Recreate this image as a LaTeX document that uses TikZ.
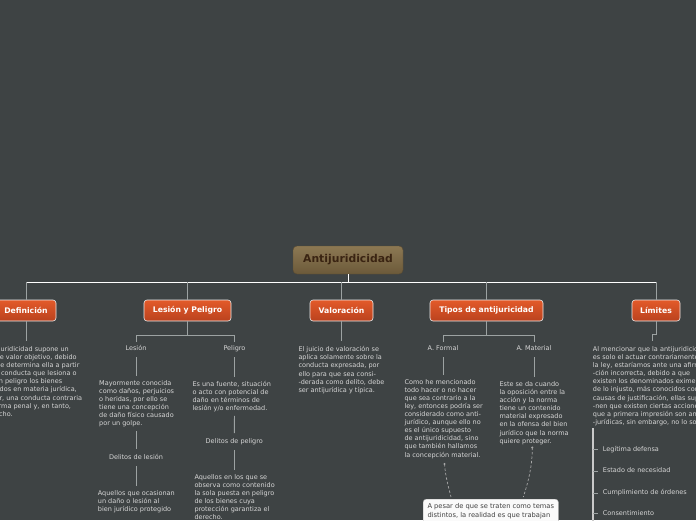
\documentclass[tikz,border=0pt]{standalone}
\usepackage{fontspec}
\setmainfont{DejaVu Sans}
\definecolor{bg}{HTML}{3E4344}
\definecolor{txt}{HTML}{D6D6D6}
\definecolor{conn}{HTML}{9CA2A2}
\definecolor{orT}{HTML}{E35A2A}
\definecolor{orB}{HTML}{BA421E}
\definecolor{brT}{HTML}{8C7853}
\definecolor{brB}{HTML}{6C5A3A}
\definecolor{brTxt}{HTML}{3A2412}
\definecolor{relc}{HTML}{A8A8A8}
\definecolor{barc}{HTML}{C9C9C9}
\begin{document}
\begin{tikzpicture}[x=1pt,y=-1pt,
 rootbox/.style={rounded corners=4pt, top color=brT, bottom color=brB, draw=brB!85!black, line width=0.4pt, text=brTxt, font=\bfseries\fontsize{10.8}{12}\selectfont, minimum width=110pt, minimum height=28pt, inner sep=0pt},
 mainbox/.style={rounded corners=3pt, top color=orT, bottom color=orB, draw=white!85!gray, line width=0.6pt, text=white, font=\bfseries\fontsize{7.7}{9}\selectfont, minimum height=21pt, inner sep=0pt},
 bodytxt/.style={anchor=north west, inner sep=0pt, align=left, text=txt, font=\fontsize{6.5}{8.1}\selectfont},
 lbl/.style={anchor=base, inner sep=1pt, text=txt, font=\fontsize{6.5}{8.1}\selectfont, text height=4.9pt, text depth=1.5pt},
 bulletitem/.style={anchor=base west, inner sep=0pt, text=txt, font=\fontsize{6.5}{8.1}\selectfont, text height=4.9pt, text depth=1.5pt},
 wire/.style={draw=conn, line width=0.9pt},
 topwire/.style={draw=white, line width=0.9pt},
 vl/.style={wire, shorten <=4pt, shorten >=4pt},
 relline/.style={draw=relc, line width=0.7pt, dash pattern=on 2.5pt off 2pt},
 notebox/.style={anchor=north west, fill=white!96!gray, draw=gray!60, rounded corners=3pt, inner xsep=4.3pt, inner ysep=4pt, align=left, text=black!75, font=\fontsize{6.7}{9.3}\selectfont}
]
\useasboundingbox (0,0) rectangle (696,520);
\clip (0,0) rectangle (696,520);
\fill[bg] (0,0) rectangle (696,520);

% main nodes
\node[rootbox] (root) at (348,260) {Antijuridicidad};
\node[mainbox, minimum width=60pt] (def) at (26,310.5) {Definición};
\node[mainbox, minimum width=87pt] (lyp) at (187.5,310.5) {Lesión y Peligro};
\node[mainbox, minimum width=63pt] (val) at (341.5,310.5) {Valoración};
\node[mainbox, minimum width=113pt] (tip) at (486.5,310.5) {Tipos de antijuricidad};
\node[mainbox, minimum width=48pt] (lim) at (656,310.5) {Límites};

% top connectors
\coordinate (rj) at (348,282);
\draw[topwire] (root.south) -- (rj);
\draw[topwire] (def.north |- rj) -- (lim.north |- rj);
\foreach \n in {def,lyp,val,tip,lim} \draw[wire] (\n.north |- rj) -- (\n.north);

% Definicion
\node[bodytxt] (defTxt) at (-23.6,346.3) {La antijuridicidad supone un\\juicio de valor objetivo, debido\\a que se determina ella a partir\\de una conducta que lesiona o\\pone en peligro los bienes\\protegidos en materia jurídica,\\es decir, una conducta contraria\\a la norma penal y, en tanto,\\al derecho.};
\draw[wire, shorten >=5pt] (def.south) -- (def.south |- defTxt.north);

% Lesion y Peligro
\node[lbl] (les) at (136,350.3) {Lesión};
\node[lbl] (pel) at (234.5,350.3) {Peligro};
\coordinate (lypj) at (187.5,335.5);
\draw[wire] (lyp.south) -- (lypj);
\draw[wire, shorten <=2.5pt, shorten >=2.5pt] (les.north) |- (lypj) -| (pel.north);
\node[bodytxt] (lesTxt) at (99,380.3) {Mayormente conocida\\como daños, perjuicios\\o heridas, por ello se\\tiene una concepción\\de daño físico causado\\por un golpe.};
\node[bodytxt] (pelTxt) at (192.3,380.6) {Es una fuente, situación\\o acto con potencial de\\daño en términos de\\lesión y/o enfermedad.};
\node[lbl] (dles) at (136,459.5) {Delitos de lesión};
\node[lbl] (dpel) at (234.3,443.2) {Delitos de peligro};
\node[bodytxt] (dlesTxt) at (97.7,490) {Aquellos que ocasionan\\un daño o lesión al\\bien jurídico protegido};
\node[bodytxt] (dpelTxt) at (194.3,474) {Aquellos en los que se\\observa como contenido\\la sola puesta en peligro\\de los bienes cuya\\protección garantiza el\\derecho.};
\draw[vl] (les.south) -- (les.south |- lesTxt.north);
\draw[vl] (les.south |- lesTxt.south) -- (dles.north);
\draw[vl] (dles.south) -- (dles.south |- dlesTxt.north);
\draw[vl] (pel.south) -- (pel.south |- pelTxt.north);
\draw[vl] (pel.south |- pelTxt.south) -- (dpel.north);
\draw[vl] (dpel.south) -- (dpel.south |- dpelTxt.north);

% Valoracion
\node[bodytxt] (valTxt) at (298.3,346.3) {El juicio de valoración se\\aplica solamente sobre la\\conducta expresada, por\\ello para que sea consi-\\-derada como delito, debe\\ser antijurídica y típica.};
\draw[wire, shorten >=5pt] (val.south) -- (val.south |- valTxt.north);

% Tipos
\node[lbl] (afor) at (443,350.5) {A. Formal};
\node[lbl] (amat) at (534,350.5) {A. Material};
\coordinate (tipj) at (486.5,335.5);
\draw[wire] (tip.south) -- (tipj);
\draw[wire, shorten <=2.5pt, shorten >=2.5pt] (afor.north) |- (tipj) -| (amat.north);
\node[bodytxt] (aforTxt) at (404.3,379) {Como he mencionado\\todo hacer o no hacer\\que sea contrario a la\\ley, entonces podría ser\\considerado como anti-\\jurídico, aunque ello no\\es el único supuesto\\de antijuridicidad, sino\\que también hallamos\\la concepción material.};
\node[bodytxt] (amatTxt) at (499.3,381.3) {Este se da cuando\\la oposición entre la\\acción y la norma\\tiene un contenido\\material expresado\\en la ofensa del bien\\jurídico que la norma\\quiere proteger.};
\draw[vl] (afor.south) -- (afor.south |- aforTxt.north);
\draw[vl] (amat.south) -- (amat.south |- amatTxt.north);

% relation curves and note
\coordinate (r1a) at (444.5,464);
\coordinate (r1b) at (451,497);
\coordinate (r2a) at (532.3,447.5);
\coordinate (r2b) at (523.3,497);
\draw[relline] (r1a) .. controls (445.5,477) and (448.5,487) .. (r1b);
\draw[relline] (r2a) .. controls (532.3,468) and (527.5,484) .. (r2b);
\fill[relc] (r1a) circle (1.1pt);
\fill[relc] (r2a) circle (1.1pt);
\node[notebox] (note) at (423,499) {A pesar de que se traten como temas\\distintos, la realidad es que trabajan\\\mbox{}};

% Limites
\node[bodytxt] (limTxt) at (592.7,346.3) {Al mencionar que la antijuridicidad\\es solo el actuar contrariamente a\\la ley, estaríamos ante una afirma-\\-ción incorrecta, debido a que\\existen los denominados eximentes\\de lo injusto, más conocidos como\\causas de justificación, ellas supo-\\-nen que existen ciertas acciones\\que a primera impresión son anti-\\-jurídicas, sin embargo, no lo son.};
\coordinate (limj) at (652,341);
\draw[wire] (lim.south) -- ++(0,13) -| (limj);
\coordinate (bart) at (593,428);
\coordinate (barb) at (593,524);
\draw[draw=barc, line width=1.5pt] (bart) -- (barb);
\node[bulletitem] (it1) at (602.7,451.2) {Legítima defensa};
\node[bulletitem] (it2) at (602.7,472.9) {Estado de necesidad};
\node[bulletitem] (it3) at (602.7,494.9) {Cumplimiento de órdenes};
\node[bulletitem] (it4) at (602.7,515.5) {Consentimiento};
\foreach \i in {it1,it2,it3,it4} \draw[wire, line width=0.7pt, shorten >=4.5pt] (bart |- \i.west) -- (\i.west);
\end{tikzpicture}
\end{document}
